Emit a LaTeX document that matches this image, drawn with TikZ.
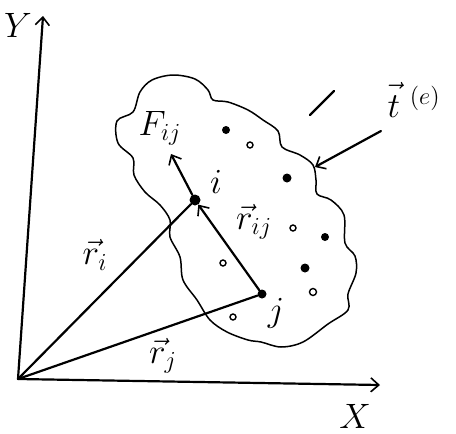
\documentclass[tikz,border=0pt]{standalone}
\usetikzlibrary{arrows.meta}
\begin{document}
\begin{tikzpicture}[x=1pt,y=-1pt,
  ink/.style={line width=2.2pt, black, line cap=round},
  barb/.style={-{Straight Barb[length=8pt,width=14pt,line width=1.6pt]}},
  lab/.style={font=\huge, inner sep=0pt, scale=1.7},
  bead/.style={circle, fill=black, inner sep=0pt},
  pore/.style={circle, draw=black, line width=1.4pt, inner sep=0pt, minimum size=6pt},
  grain/.style={circle, fill=black, inner sep=0pt, minimum size=8pt},
]
\useasboundingbox (0,0) rectangle (456,434);
% cloud (body)
\draw[line width=1.5pt, line join=round] plot[smooth cycle, tension=0.55] coordinates {
 (117,121) (133,112) (140,92) (152,80) (173,75) (195,79) (208,90) (213,100)
 (228,102) (248,110) (263,120) (278,131) (282,147) (300,155) (313,165)
 (316,180) (317,194) (331,200) (344,215) (345,243) (355,256) (356,273)
 (348,294) (348,310) (328,324) (303,342) (281,347) (261,342) (248,340)
 (227,332) (210,320) (197,300) (183,280) (180,257) (170,237) (170,220)
 (160,205) (145,192) (134,175) (133,158) (118,143)};
% named points
\coordinate (O) at (18,379);
\coordinate (Yend) at (43,16);
\coordinate (Xend) at (380,385);
\node[bead, minimum size=11pt] (I) at (195,200) {};
\node[bead, minimum size=9pt] (J) at (262,294) {};
\coordinate (Ftip) at (171,154);
\coordinate (Tstart) at (381,131);
\coordinate (Tend) at (315,167);
% axes
\draw[ink, barb] (O) -- (Yend);
\draw[ink, barb] (O) -- (Xend);
% position vectors
\draw[ink] (O) -- (I);
\draw[ink] (O) -- (J);
\draw[ink, barb] (J) -- (I);
\draw[ink, barb] (I) -- (Ftip);
\draw[ink, barb] (Tstart) -- (Tend);
% short stroke
\draw[ink] (310,115) -- (334,91);
% particles
\node[grain] (p1) at (226,130) {};
\node[grain, minimum size=9pt] (p2) at (287,178) {};
\node[grain] (p3) at (325,237) {};
\node[grain, minimum size=9pt] (p4) at (305,268) {};
\node[pore] (q1) at (250,145) {};
\node[pore] (q2) at (293,228) {};
\node[pore] (q3) at (223,263) {};
\node[pore, minimum size=7pt] (q4) at (313,292) {};
\node[pore] (q5) at (233,317) {};
% labels
\node[lab] (Ylab) at (18,25) {$Y$};
\node[lab] (Xlab) at (355,416) {$X$};
\node[lab] (Flab) at (160,128) {$F_{ij}$};
\node[lab] (ilab) at (216,182) {$i$};
\node[lab] (jlab) at (276,313) {$j$};
\node[lab] (rilab) at (95,255) {$\vec{r}_i$};
\node[lab] (rjlab) at (163,356) {$\vec{r}_j$};
\node[lab] (rijlab) at (254,222) {$\vec{r}_{ij}$};
\node[lab] (tlab) at (414,100) {$\vec{t\vphantom{l}}\;^{(e)}$};
\end{tikzpicture}
\end{document}
